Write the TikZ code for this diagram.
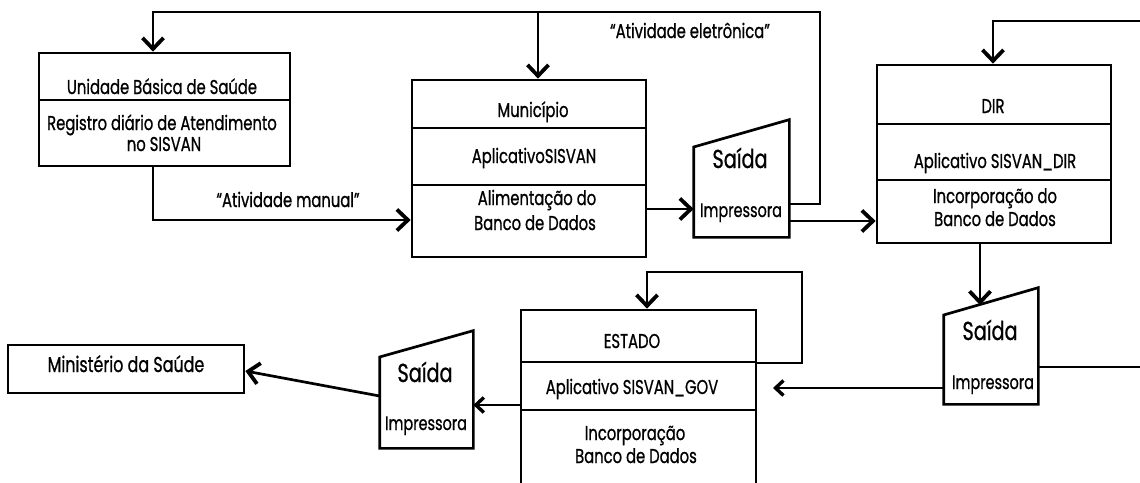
\documentclass[tikz,border=0pt]{standalone}
\usepackage{fontspec}
\setmainfont{Poppins}[FakeStretch=0.74,FakeBold=0.8]
\usetikzlibrary{arrows.meta}
\begin{document}
\begin{tikzpicture}[x=1pt,y=-1pt, line width=2.7pt,
  box/.style={draw, rectangle, inner sep=0pt, line width=2.7pt},
  shp/.style={draw=none, rectangle, inner sep=0pt},
  txt/.style={inner sep=0pt, anchor=base, font=\fontsize{20}{24}\selectfont},
  bigtxt/.style={inner sep=0pt, anchor=base, font=\fontsize{26}{30}\selectfont},
  smalltxt/.style={inner sep=0pt, anchor=base, font=\fontsize{19.5}{22}\selectfont},
  arr/.style={-{Straight Barb[length=11pt,width=21pt,line width=3.8pt]}},
  sarr/.style={-{Straight Barb[length=8pt,width=15pt,line width=3.4pt]}},
]
\clip (0,0) rectangle (1140,482);
\fill[white] (0,0) rectangle (1140,482);

% boxes
\node[box, minimum width=251pt, minimum height=113pt] (ubs) at (164.5,109.5) {};
\node[box, minimum width=234pt, minimum height=177pt] (mun) at (529,168.5) {};
\node[box, minimum width=234pt, minimum height=178pt] (dir) at (994,154) {};
\node[box, minimum width=235pt, minimum height=210pt] (est) at (638.5,415) {};
\node[box, minimum width=236pt, minimum height=48pt] (ms) at (126,369) {};

% dividers
\draw (ubs.west |- 0,100) -- (ubs.east |- 0,100);
\draw (mun.west |- 0,128) -- (mun.east |- 0,128);
\draw (mun.west |- 0,185) -- (mun.east |- 0,185);
\draw (dir.west |- 0,124) -- (dir.east |- 0,124);
\draw (dir.west |- 0,180) -- (dir.east |- 0,180);
\draw (est.west |- 0,362) -- (est.east |- 0,362);
\draw (est.west |- 0,410) -- (est.east |- 0,410);

% output (Saida) shapes
\node[shp, minimum width=93pt, minimum height=115pt] (s1) at (741.5,178.5) {};
\node[shp, minimum width=92pt, minimum height=114pt] (s2) at (991,346) {};
\node[shp, minimum width=91pt, minimum height=115pt] (s3) at (426.5,389.5) {};
\draw[line join=miter] (s1.south west) -- (s1.west |- 0,147) -- (s1.north east) -- (s1.south east) -- cycle;
\draw[line join=miter] (s2.south west) -- (s2.west |- 0,315) -- (s2.north east) -- (s2.south east) -- cycle;
\draw[line join=miter] (s3.south west) -- (s3.west |- 0,357) -- (s3.north east) -- (s3.south east) -- cycle;

% texts
\node[txt] (ubs-a) at (162,94) {Unidade Básica de Saúde};
\node[txt] (ubs-b) at (162,130) {Registro diário de Atendimento};
\node[txt] (ubs-c) at (164,151) {no SISVAN};
\node[txt] (mun-a) at (533,117) {Município};
\node[txt] (mun-b) at (534,163) {AplicativoSISVAN};
\node[txt] (mun-c) at (537,205) {Alimentação do};
\node[txt] (mun-d) at (535,230) {Banco de Dados};
\node[txt] (dir-a) at (993,113) {DIR};
\node[txt] (dir-b) at (995,168) {Aplicativo SISVAN\_DIR};
\node[txt] (dir-c) at (995,203) {Incorporação do};
\node[txt] (dir-d) at (995,226) {Banco de Dados};
\node[txt] (est-a) at (632,348) {ESTADO};
\node[txt] (est-b) at (632,394) {Aplicativo SISVAN\_GOV};
\node[txt] (est-c) at (635,440) {Incorporação};
\node[txt] (est-d) at (636,463) {Banco de Dados};
\node[txt] (lbl-e) at (690,38) {“Atividade eletrônica”};
\node[txt] (lbl-m) at (288,207) {“Atividade manual”};
\node[txt, font=\fontsize{21.5}{24}\selectfont] (ms-a) at (126,372) {Ministério da Saúde};
\node[bigtxt] (s1-a) at (740,168) {Saída};
\node[smalltxt] (s1-b) at (741,217) {Impressora};
\node[bigtxt] (s2-a) at (990,340) {Saída};
\node[smalltxt] (s2-b) at (993,389) {Impressora};
\node[bigtxt] (s3-a) at (425,382) {Saída};
\node[smalltxt] (s3-b) at (426,430) {Impressora};

% connectors
\coordinate (fb) at (820,12);
\coordinate (rin) at (1140,21);
\coordinate (s2top) at (980,305);
\coordinate (rout) at (1140,367);
\coordinate (efb) at (802,272);
\coordinate (ein) at (773,388);

\draw[arr] (ubs.south -| 153,0) |- (mun.west |- 0,220);
\draw[arr] (s1.east |- 0,204) -| (fb) -| (ubs.north -| 153,0);
\draw[arr] (fb -| 538,0) -- (mun.north -| 538,0);
\draw[arr] (mun.east |- 0,209) -- (s1.west |- 0,209);
\draw[arr] (s1.east |- 0,221) -- (dir.west |- 0,221);
\draw[arr] (rin) -| (dir.north -| 993,0);
\draw[arr] (dir.south -| 980,0) -- (s2top);
\draw (s2.east |- 0,367) -- (rout);
\draw[sarr] (s2.west |- 0,388) -- (ein);
\draw[arr] (est.east |- 0,363) -| (efb) -| (est.north -| 647,0);
\draw[sarr] (est.west |- 0,405) -- (s3.east |- 0,405);
\draw[arr] (s3.west |- 0,396) -- (ms.east |- 0,371);
\end{tikzpicture}
\end{document}
